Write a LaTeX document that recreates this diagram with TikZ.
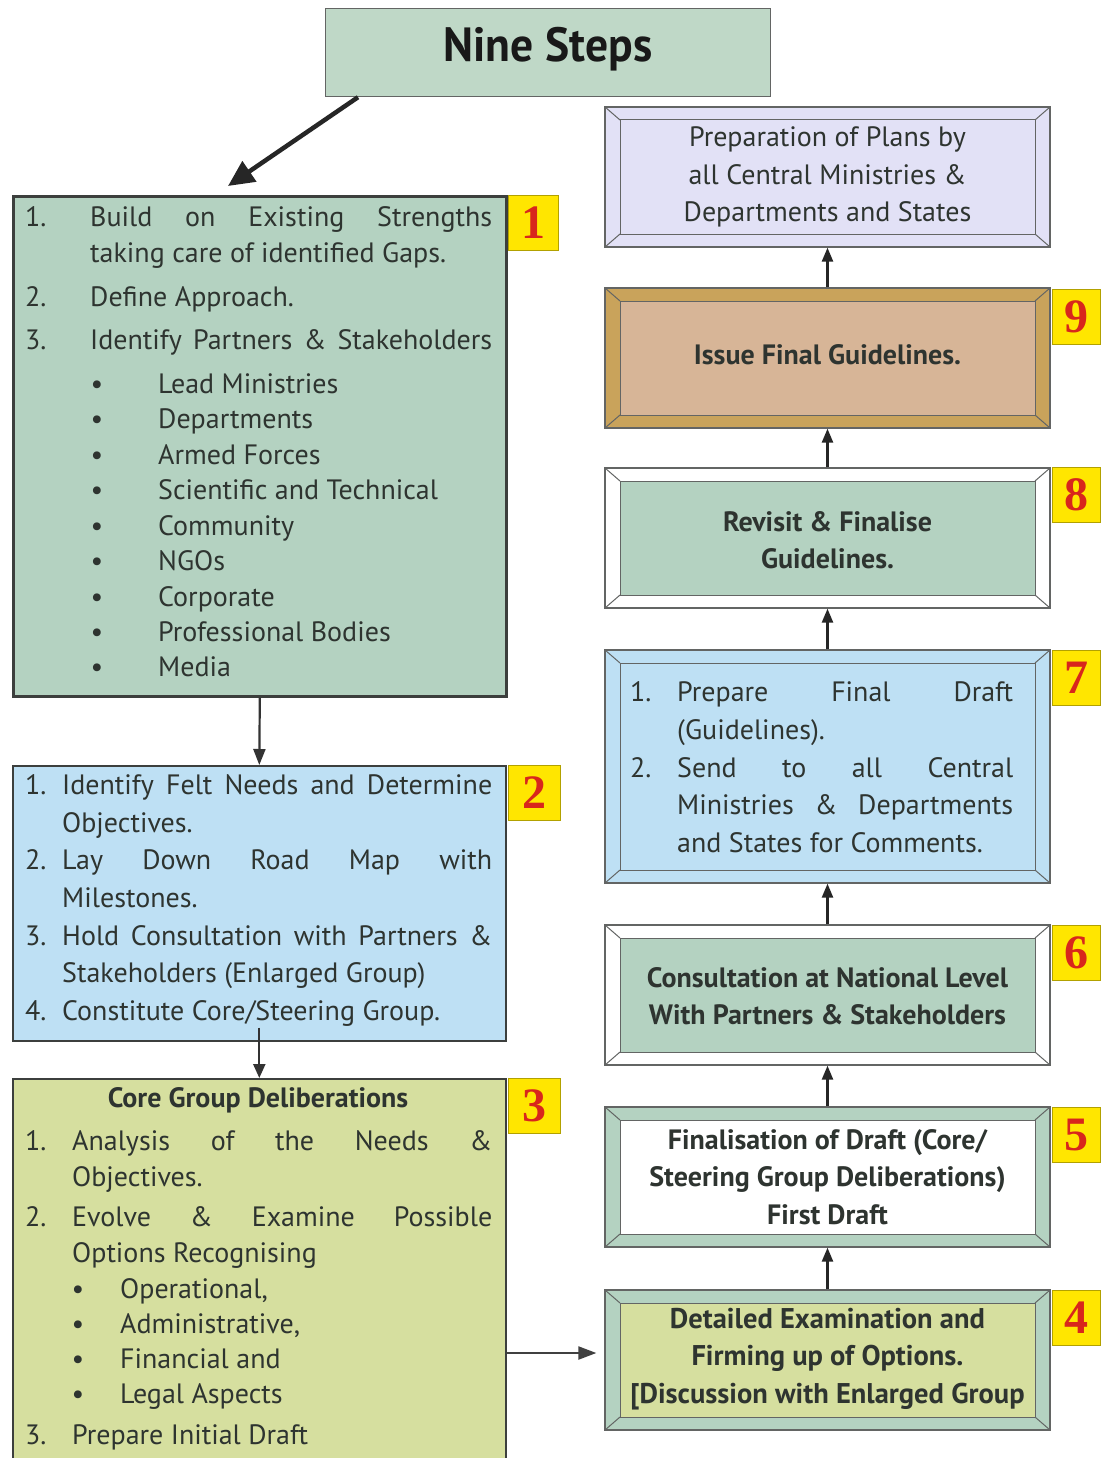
\documentclass[tikz,border=0pt]{standalone}
\usepackage{fontspec}
\setmainfont{PT Sans}
\newfontfamily\numfont{Liberation Serif}
\usetikzlibrary{arrows.meta,calc}
\definecolor{ctitle}{HTML}{BFD8C7}
\definecolor{cgreen}{HTML}{B4D2C1}
\definecolor{cblue}{HTML}{BEE0F4}
\definecolor{cyell}{HTML}{D6DF9F}
\definecolor{clav}{HTML}{E2E1F6}
\definecolor{ctan}{HTML}{D7B597}
\definecolor{cgold}{HTML}{C9A35B}
\definecolor{cbadge}{HTML}{FFE600}
\definecolor{cred}{HTML}{D8261C}
\definecolor{ctext}{HTML}{2E3430}
\definecolor{cline}{HTML}{3C3F3D}
\newcommand\jl[2]{\makebox[#1pt][s]{#2}}
\newcommand\innercol{white}
\tikzset{
  x=1pt, y=-1pt,
  txt/.style={font=\fontsize{28}{34}\selectfont, text=ctext, inner sep=0pt, anchor=base west},
  btxt/.style={font=\fontsize{28}{37.6}\selectfont\bfseries, text=ctext, inner sep=0pt, align=center},
  lbox/.style={draw=cline, line width=1.6pt, anchor=north west, inner sep=0pt},
  badge/.style={fill=cbadge, draw=cbadge!70!black, line width=0.4pt, minimum width=48pt, minimum height=55pt, inner sep=0pt,
     font=\numfont\fontsize{48}{48}\selectfont\bfseries, text=cred},
  innerfill/.code={\def\innercol{#1}},
  bevel/.style={draw=cline!80, line width=1.3pt, minimum width=445pt, inner sep=0pt,
    path picture={
      \fill[\innercol] ([xshift=15pt,yshift=-13pt]path picture bounding box.north west) rectangle ([xshift=-15pt,yshift=13pt]path picture bounding box.south east);
      \draw[cline!80, line width=1pt] ([xshift=15pt,yshift=-13pt]path picture bounding box.north west) rectangle ([xshift=-15pt,yshift=13pt]path picture bounding box.south east);
      \draw[cline!80, line width=1pt] (path picture bounding box.north west) -- ++(15pt,-13pt)
        (path picture bounding box.north east) -- ++(-15pt,-13pt)
        (path picture bounding box.south west) -- ++(15pt,13pt)
        (path picture bounding box.south east) -- ++(-15pt,13pt);
    }},
  uparr/.style={draw=black!85, line width=2.4pt, -{Triangle[length=14pt,width=11pt]}},
}
\begin{document}
\begin{tikzpicture}
\useasboundingbox[fill=white] (0,0) rectangle (1100,1458);

% title
\node[lbox, fill=ctitle, draw=cline!80, line width=1.2pt, minimum width=445pt, minimum height=88pt] (title) at (325,8) {};
\node[font=\fontsize{48}{48}\selectfont\bfseries, text=black!90, inner sep=0pt, xscale=0.95] (titletext) at (548,49) {Nine Steps};

% left boxes
\node[lbox, fill=cgreen, line width=2.6pt, minimum width=493pt, minimum height=500pt] (b1) at (12,195) {};
\node[lbox, fill=cblue, minimum width=493pt, minimum height=275pt] (b2) at (12,765) {};
\node[lbox, fill=cyell, minimum width=493pt, minimum height=400pt] (b3) at (12,1078) {};

% badges left
\node[badge, minimum width=50pt] (k1) at (533,222.5) {1};
\node[badge, minimum width=52pt] (k2) at (534,792.5) {2};
\node[badge, minimum width=52pt] (k3) at (534,1105.5) {3};

% box 1 text
\node[txt] (b1n1) at (25,226) {1.};
\node[txt] (b1t1) at (90,226) {\jl{402}{Build on Existing Strengths}};
\node[txt] (b1t1b) at (90,262) {taking care of identified Gaps.};
\node[txt] (b1n2) at (25,306) {2.};
\node[txt] (b1t2) at (90,306) {Define Approach.};
\node[txt] (b1n3) at (25,349) {3.};
\node[txt] (b1t3) at (90,349) {\jl{402}{Identify Partners \& Stakeholders}};
\foreach \yy/\tt [count=\i] in {393/Lead Ministries, 428/Departments, 464/Armed Forces, 499/Scientific and Technical, 535/Community, 570/NGOs, 606/Corporate, 641/Professional Bodies, 676/Media}{
  \node[txt, anchor=base] (b1d\i) at (97,\yy) {\textbullet};
  \node[txt] (b1b\i) at (158,\yy) {\tt};
}

% box 2 text
\node[txt] (b2n1) at (25,794) {1.};
\node[txt] (b2t1) at (62,794) {\jl{430}{Identify Felt Needs and Determine}};
\node[txt] (b2t1b) at (62,832) {Objectives.};
\node[txt] (b2n2) at (25,869) {2.};
\node[txt] (b2t2) at (62,869) {\jl{430}{Lay Down Road Map with}};
\node[txt] (b2t2b) at (62,907) {Milestones.};
\node[txt] (b2n3) at (25,945) {3.};
\node[txt] (b2t3) at (62,945) {\jl{430}{Hold Consultation with Partners \&}};
\node[txt] (b2t3b) at (62,982) {Stakeholders (Enlarged Group)};
\node[txt] (b2n4) at (25,1020) {4.};
\node[txt] (b2t4) at (62,1020) {Constitute Core/Steering Group.};

% box 3 text
\node[txt, anchor=base, font=\fontsize{28}{34}\selectfont\bfseries] (b3h) at (258,1107) {Core Group Deliberations};
\node[txt] (b3n1) at (25,1150) {1.};
\node[txt] (b3t1) at (72,1150) {\jl{420}{Analysis of the Needs \&}};
\node[txt] (b3t1b) at (72,1186) {Objectives.};
\node[txt] (b3n2) at (25,1226) {2.};
\node[txt] (b3t2) at (72,1226) {\jl{420}{Evolve \& Examine Possible}};
\node[txt] (b3t2b) at (72,1262) {Options Recognising};
\foreach \yy/\tt [count=\i] in {1298/Operational{,}, 1333/Administrative{,}, 1368/Financial and, 1403/Legal Aspects}{
  \node[txt, anchor=base] (b3d\i) at (78,\yy) {\textbullet};
  \node[txt] (b3b\i) at (120,\yy) {\tt};
}
\node[txt] (b3n3) at (25,1444) {3.};
\node[txt] (b3t3) at (72,1444) {Prepare Initial Draft};

% right column
\node[bevel, fill=clav, innerfill=clav, minimum height=140pt] (s10) at (827.5,177) {};
\node[txt, anchor=center, align=center, font=\fontsize{28}{37.6}\selectfont] (s10t) at (827.5,177) {Preparation of Plans by\\all Central Ministries \&\\Departments and States};

\node[bevel, fill=cgold, innerfill=ctan, minimum height=140pt] (s9) at (827.5,358) {};
\node[btxt] (s9t) at (827.5,355) {Issue Final Guidelines.};

\node[bevel, fill=white, innerfill=cgreen, minimum height=140pt] (s8) at (827.5,538) {};
\node[btxt] (s8t) at (827.5,540) {Revisit \& Finalise\\Guidelines.};

\node[bevel, fill=cblue, innerfill=cblue, minimum height=233pt] (s7) at (827.5,766.5) {};
\node[txt] (s7n1) at (630,701) {1.};
\node[txt] (s7t1) at (677,701) {\jl{336}{Prepare Final Draft}};
\node[txt] (s7t1b) at (677,739) {(Guidelines).};
\node[txt] (s7n2) at (630,777) {2.};
\node[txt] (s7t2) at (677,777) {\jl{336}{Send to all Central}};
\node[txt] (s7t2b) at (677,814) {\jl{336}{Ministries \& Departments}};
\node[txt] (s7t2c) at (677,852) {and States for Comments.};

\node[bevel, fill=white, innerfill=cgreen, minimum height=140pt] (s6) at (827.5,995) {};
\node[btxt] (s6t) at (827.5,996) {Consultation at National Level\\With Partners \& Stakeholders};

\node[bevel, fill=cgreen, innerfill=white, minimum height=140pt] (s5) at (827.5,1177) {};
\node[btxt] (s5t) at (827.5,1177) {Finalisation of Draft (Core/\\Steering Group Deliberations)\\First Draft};

\node[bevel, fill=cgreen, innerfill=cyell, minimum height=140pt] (s4) at (827.5,1360) {};
\node[btxt, font=\fontsize{28.5}{37.6}\selectfont\bfseries] (s4t) at (827.5,1359) {Detailed Examination and\\Firming up of Options.\\{[}Discussion with Enlarged Group};

% right badges
\node[badge] (k9) at (1076,316.5) {9};
\node[badge] (k8) at (1076,495) {8};
\node[badge] (k7) at (1076,677.5) {7};
\node[badge] (k6) at (1076,952.5) {6};
\node[badge] (k5) at (1076,1135) {5};
\node[badge] (k4) at (1076,1317.5) {4};

% connectors
\draw[draw=black!85, line width=4.5pt, -{Triangle[length=26pt,width=24pt]}] ([xshift=33pt]title.south west) -- ([xshift=216pt,yshift=9pt]b1.north west);
\draw[draw=black!80, line width=2.2pt, -{Triangle[length=16pt,width=12pt]}] (b1.south) -- (b2.north);
\draw[draw=black!80, line width=2.2pt, -{Triangle[length=14pt,width=12pt]}] ([yshift=14pt]b2.south) -- (b3.north);
\coordinate (a4) at ([xshift=-8pt,yshift=7pt]s4.west);
\draw[draw=black!75, line width=2.2pt, -{Triangle[length=18pt,width=13pt]}] (b3.east |- a4) -- (a4);
\draw[uparr] (s4.north) -- (s5.south);
\draw[uparr] (s5.north) -- (s6.south);
\draw[uparr] (s6.north) -- (s7.south);
\draw[uparr] (s7.north) -- (s8.south);
\draw[uparr] (s8.north) -- (s9.south);
\draw[uparr] (s9.north) -- (s10.south);
\end{tikzpicture}
\end{document}
